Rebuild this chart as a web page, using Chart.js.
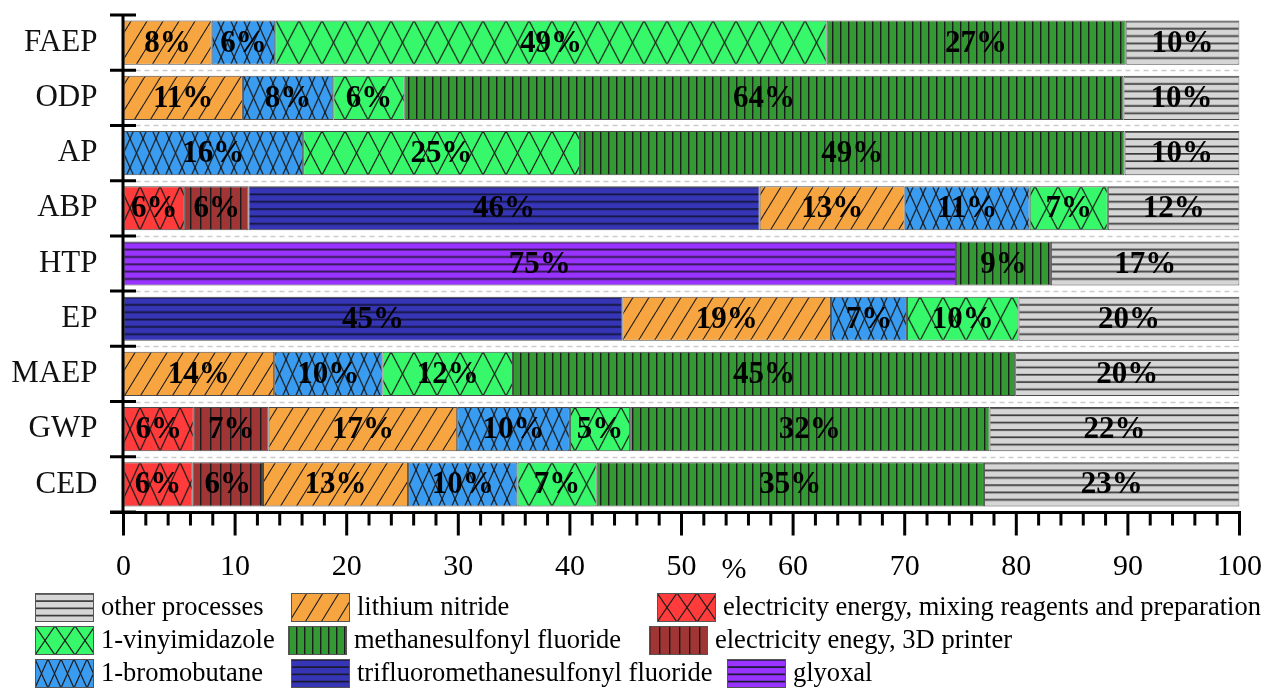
<!DOCTYPE html>
<html>
<head>
<meta charset="utf-8">
<title>Contribution analysis by impact category</title>
<script src="https://cdn.jsdelivr.net/npm/chart.js@4.4.1/dist/chart.umd.min.js"></script>
<style>
  html, body { margin: 0; padding: 0; background: #ffffff; }
  #wrap { width: 1263px; height: 688px; position: relative; }
</style>
</head>
<body>
<div id="wrap"><canvas id="chart" width="1263" height="688"></canvas></div>
<script>
// Impact categories, listed top to bottom
const categories = ['FAEP', 'ODP', 'AP', 'ABP', 'HTP', 'EP', 'MAEP', 'GWP', 'CED'];

// Share of each process in every impact category (%)
const elecMixing  = [null, null, null, 5.5, null, null, null, 6.3, 6.2];
const elecPrinter = [null, null, null, 5.7, null, null, null, 6.7, 6.3];
const glyoxal     = [null, null, null, null, 74.6, null, null, null, null];
const triflyl     = [null, null, null, 45.8, null, 44.7, null, null, null];
const lithiumNitr = [7.9, 10.7, null, 13.0, null, 18.7, 13.5, 16.9, 13.0];
const bromobutane = [5.7, 8.1, 16.1, 11.2, null, 6.8, 9.7, 10.1, 9.8];
const vinylimid   = [49.4, 6.4, 24.8, 7.0, null, 10.0, 11.7, 5.4, 7.1];
const mesylFluor  = [26.8, 64.4, 48.8, null, 8.5, null, 45.0, 32.2, 34.7];
const otherProc   = [10.2, 10.4, 10.3, 11.8, 16.9, 19.8, 20.1, 22.4, 22.9];

const seriesNames = {
  elecMixing: 'electricity energy, mixing reagents and preparation',
  elecPrinter: 'electricity enegy, 3D printer',
  glyoxal: 'glyoxal',
  triflyl: 'trifluoromethanesulfonyl fluoride',
  lithiumNitr: 'lithium nitride',
  bromobutane: '1-bromobutane',
  vinylimid: '1-vinyimidazole',
  mesylFluor: 'methanesulfonyl fluoride',
  otherProc: 'other processes'
};

const SERIF = '"Liberation Serif", "Times New Roman", serif';
const INK = '#1c1c1c';

// ---------- hatch tiles ----------
function makeTile(w, h, bg, paint) {
  const c = document.createElement('canvas');
  c.width = w; c.height = h;
  const g = c.getContext('2d');
  g.fillStyle = bg;
  g.fillRect(0, 0, w, h);
  paint(g, w, h);
  return c;
}
function hStripes(bg, ink, n) {
  return (h) => makeTile(8, h, bg, (g, w, hh) => {
    g.fillStyle = ink;
    for (let k = 0; k < n; k++) g.fillRect(0, k * hh / n, w, 1.7);
  });
}
function vStripes(bg, step) {
  return () => makeTile(step, 8, bg, (g, w, h) => {
    g.fillStyle = INK;
    g.fillRect(0, 0, 1.4, h);
  });
}
function slash(bg) {
  return () => makeTile(16, 26, bg, (g, w, h) => {
    g.strokeStyle = INK; g.lineWidth = 1.1;
    for (const dx of [-w, 0, w]) {
      g.beginPath(); g.moveTo(dx, h); g.lineTo(dx + w, 0); g.stroke();
    }
  });
}
function diamonds(bg, w, fixedH) {
  return (h) => makeTile(w, fixedH || h, bg, (g, ww, hh) => {
    g.strokeStyle = INK; g.lineWidth = 1.2;
    for (const dx of [-ww, 0, ww]) for (const dy of [-hh, 0, hh]) {
      g.beginPath(); g.moveTo(dx, dy); g.lineTo(dx + ww, dy + hh); g.stroke();
      g.beginPath(); g.moveTo(dx + ww, dy); g.lineTo(dx, dy + hh); g.stroke();
    }
  });
}

// fill colour, tile builder and vertical anchoring of the tile for each series
const styles = {
  elecMixing:  { color: '#ff3b3b', tile: diamonds('#ff3b3b', 20), anchor: 'top', legendH: 29 },
  elecPrinter: { color: '#a03535', tile: vStripes('#a03535', 10), anchor: 'none' },
  glyoxal:     { color: '#9933ff', tile: hStripes('#9933ff', '#2a1640', 6), anchor: 'top', legendN: 4 },
  triflyl:     { color: '#3535b5', tile: hStripes('#3535b5', '#15153a', 6), anchor: 'top', legendN: 4 },
  lithiumNitr: { color: '#f7a540', tile: slash('#f7a540'), anchor: 'none' },
  bromobutane: { color: '#3a9cf0', tile: diamonds('#3a9cf0', 13, 29), anchor: 'center' },
  vinylimid:   { color: '#36f86a', tile: diamonds('#36f86a', 23), anchor: 'top', legendW: 20 },
  mesylFluor:  { color: '#339933', tile: vStripes('#339933', 8), anchor: 'none' },
  otherProc:   { color: '#d6d6d6', tile: hStripes('#d6d6d6', '#3a3a3a', 6), anchor: 'top', legendN: 4 }
};

const seriesOrder = ['elecMixing', 'elecPrinter', 'glyoxal', 'triflyl', 'lithiumNitr',
                     'bromobutane', 'vinylimid', 'mesylFluor', 'otherProc'];
const seriesData = { elecMixing, elecPrinter, glyoxal, triflyl, lithiumNitr,
                     bromobutane, vinylimid, mesylFluor, otherProc };

const patternCache = {};
function barFill(key) {
  const st = styles[key];
  return (ctx) => {
    if (ctx.type !== 'data') return st.color;
    const chart = ctx.chart;
    const ys = chart.scales && chart.scales.y;
    if (!ys || !chart.chartArea) return st.color;
    const pitch = ys.getPixelForValue(1) - ys.getPixelForValue(0);
    const barH = pitch * 0.8;
    const top = ys.getPixelForValue(ctx.dataIndex) - barH / 2;
    const id = key + ':' + ctx.dataIndex;
    if (!patternCache[id]) {
      const tile = st.tile(Math.round(barH));
      patternCache[id] = { pat: chart.ctx.createPattern(tile, 'repeat'), h: tile.height };
    }
    const p = patternCache[id];
    let oy = 0;
    if (st.anchor === 'top') oy = top;
    else if (st.anchor === 'center') oy = top + barH / 2 - p.h / 2;
    p.pat.setTransform(new DOMMatrix().translateSelf(0, oy));
    return p.pat;
  };
}

const datasets = seriesOrder.map((key) => ({
  key,
  label: seriesNames[key],
  data: seriesData[key],
  backgroundColor: barFill(key),
  borderColor: '#4a4a4a',
  borderWidth: 1,
  borderSkipped: false,
  categoryPercentage: 1.0,
  barPercentage: 0.8
}));

// ---------- grid, axes, value labels and legend ----------
const frame = {
  id: 'frame',
  beforeDatasetsDraw(chart) {
    const { ctx, chartArea } = chart;
    const ys = chart.scales.y;
    const pitch = ys.getPixelForValue(1) - ys.getPixelForValue(0);
    ctx.save();
    ctx.strokeStyle = '#cbcbcb';
    ctx.lineWidth = 1.5;
    ctx.setLineDash([5, 4]);
    for (let i = 1; i < categories.length; i++) {
      const y = Math.round(ys.getPixelForValue(i) - pitch / 2) + 0.5;
      ctx.beginPath();
      ctx.moveTo(chartArea.left + 12, y);
      ctx.lineTo(chartArea.right, y);
      ctx.stroke();
    }
    ctx.restore();
  },
  afterDatasetsDraw(chart) {
    const { ctx, chartArea } = chart;
    const xs = chart.scales.x, ys = chart.scales.y;
    // value labels
    ctx.save();
    ctx.fillStyle = '#000';
    ctx.font = 'bold 31px ' + SERIF;
    ctx.textAlign = 'center';
    ctx.textBaseline = 'middle';
    chart.data.datasets.forEach((ds, di) => {
      const meta = chart.getDatasetMeta(di);
      meta.data.forEach((el, i) => {
        const v = ds.data[i];
        if (v === null || v === undefined) return;
        const cx = (el.x + el.base) / 2;
        ctx.fillText(Math.round(v) + '%', cx, el.y + 1);
      });
    });
    ctx.restore();

    // axes
    const pitch = ys.getPixelForValue(1) - ys.getPixelForValue(0);
    const axX = chartArea.left - 0.5;
    const axY = chartArea.bottom + 0.5;
    const topB = ys.getPixelForValue(0) - pitch / 2;
    ctx.save();
    ctx.strokeStyle = '#000';
    ctx.lineWidth = 3;
    ctx.lineCap = 'butt';
    ctx.beginPath();
    ctx.moveTo(axX, topB - 1.5); ctx.lineTo(axX, axY + 1.5);
    ctx.moveTo(axX - 13, axY); ctx.lineTo(xs.getPixelForValue(100) + 1.5, axY);
    for (let i = 0; i <= categories.length; i++) {
      const y = topB + i * pitch;
      ctx.moveTo(axX - 13, y); ctx.lineTo(axX + 13, y);
    }
    for (let v = 0; v <= 100; v += 2) {
      const x = xs.getPixelForValue(v);
      ctx.moveTo(x, axY);
      ctx.lineTo(x, axY + (v % 10 === 0 ? 23 : 13));
    }
    ctx.stroke();
    // unit of the value axis
    ctx.fillStyle = '#000';
    ctx.font = '30px ' + SERIF;
    ctx.textAlign = 'center';
    ctx.textBaseline = 'middle';
    ctx.fillText('%', xs.getPixelForValue(54.7), axY + 58);
    ctx.restore();
  },
  afterDraw(chart) {
    // legend in three loose columns
    const { ctx } = chart;
    const slots = [
      ['otherProc', 35, 593], ['lithiumNitr', 291, 593], ['elecMixing', 657, 593],
      ['vinylimid', 35, 626], ['mesylFluor', 288, 626], ['elecPrinter', 649, 626],
      ['bromobutane', 35, 659], ['triflyl', 291, 659], ['glyoxal', 727, 659]
    ];
    const sw = 59, sh = 29;
    ctx.save();
    slots.forEach(([key, x, y]) => {
      const st = styles[key];
      let tile;
      if (st.legendN) tile = hStripes(st.color, key === 'otherProc' ? '#3a3a3a' : '#1a1a30', st.legendN)(sh);
      else if (st.legendW) tile = diamonds(st.color, st.legendW)(sh);
      else tile = st.tile(sh);
      const pat = ctx.createPattern(tile, 'repeat');
      pat.setTransform(new DOMMatrix().translateSelf(x, y));
      ctx.fillStyle = pat;
      ctx.fillRect(x, y, sw, sh);
      ctx.strokeStyle = '#555';
      ctx.lineWidth = 1;
      ctx.strokeRect(x + 0.5, y + 0.5, sw - 1, sh - 1);
      ctx.fillStyle = '#000';
      ctx.font = '26.5px ' + SERIF;
      ctx.textAlign = 'left';
      ctx.textBaseline = 'middle';
      ctx.fillText(seriesNames[key], x + sw + 7, y + sh / 2 + 1);
    });
    ctx.restore();
  }
};

new Chart(document.getElementById('chart'), {
  type: 'bar',
  data: { labels: categories, datasets },
  options: {
    indexAxis: 'y',
    responsive: false,
    animation: false,
    events: [],
    layout: { padding: { left: 0, right: 23.5, top: 15, bottom: 0 } },
    plugins: { legend: { display: false }, tooltip: { enabled: false } },
    scales: {
      x: {
        stacked: true,
        min: 0, max: 100,
        grid: { display: false, drawTicks: false },
        border: { display: false },
        ticks: {
          stepSize: 10,
          padding: 37,
          color: '#000',
          font: { family: SERIF, size: 30 },
          maxRotation: 0,
          autoSkip: false
        },
        afterFit(scale) {
          scale.height = 176;
          scale.paddingLeft = 0; scale.paddingRight = 0;
        }
      },
      y: {
        stacked: true,
        offset: true,
        grid: { display: false, drawTicks: false },
        border: { display: false },
        ticks: {
          padding: 26,
          color: '#111',
          font: { family: SERIF, size: 31 }
        },
        afterFit(scale) {
          scale.width = 123.5;
          scale.paddingTop = 0; scale.paddingBottom = 0;
        }
      }
    }
  },
  plugins: [frame]
});
</script>
</body>
</html>
